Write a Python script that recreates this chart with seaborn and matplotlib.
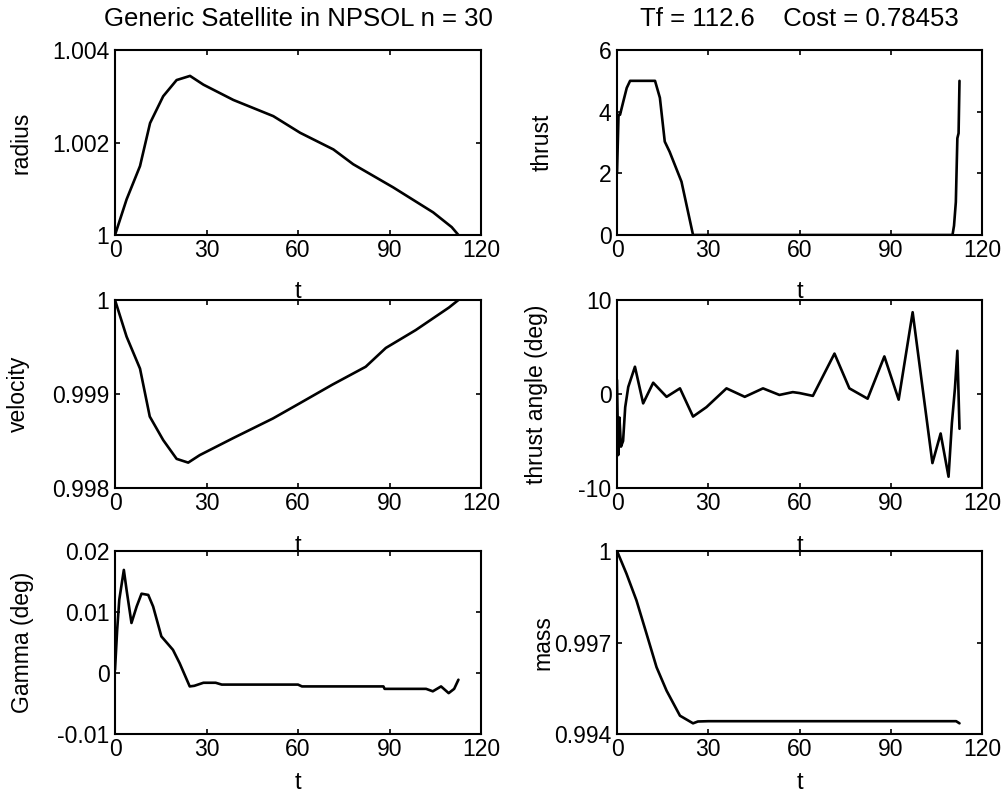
import matplotlib
matplotlib.use("Agg")
import matplotlib.pyplot as plt
import seaborn as sns
import pandas as pd

# ---------------- data ----------------
radius_t = [0, 3.8, 8.2, 11.5, 15.8, 20.2, 24.6, 29, 38.8, 51.9, 60.7, 71.6, 78.1, 91.2, 104.3, 110.4, 112.6]
radius = [1.0, 1.00077, 1.00149, 1.00242, 1.0030, 1.00335, 1.00344, 1.00325, 1.00292, 1.00257,
          1.00221, 1.00185, 1.00153, 1.00103, 1.00049, 1.00017, 1.0]

thrust_t = [0, 0.5, 1.0, 2.1, 3.2, 4.3, 12.5, 14.1, 15.7, 17.3, 21.2, 25.0, 110.3, 110.8, 111.4, 111.9, 112.3, 112.6]
thrust = [2.0, 3.9, 3.9, 4.34, 4.77, 5.0, 5.0, 4.45, 3.03, 2.7, 1.73, 0.0, 0.0, 0.3, 1.07, 3.14, 3.3, 5.0]

velocity_t = [0, 3.8, 8.2, 11.4, 15.8, 20.2, 24, 27.8, 38.7, 51.8, 60.5, 71.3, 82.2, 88.8, 98.6, 109.5, 112.6]
velocity = [1.0, 0.99961, 0.99927, 0.99876, 0.99851, 0.99831, 0.99827, 0.99835, 0.99853, 0.99874,
            0.9989, 0.9991, 0.99929, 0.99949, 0.99968, 0.99992, 1.0]

angle_t = [0, 0.4, 0.8, 1.3, 2.0, 2.7, 3.7, 5.9, 8.6, 11.9, 16.3, 20.7, 25.0, 29.4, 36.0, 42.0, 48.0,
           53.4, 57.8, 60.0, 64.4, 71.5, 76.4, 82.4, 87.9, 92.6, 97.2, 103.7, 106.4, 109.0, 110.1,
           111.1, 111.9, 112.6]
angle = [1.5, -6.5, -2.5, -5.6, -5.0, -1.4, 0.75, 2.9, -1.0, 1.2, -0.3, 0.6, -2.4, -1.4, 0.6, -0.3, 0.6,
         -0.1, 0.2, 0.1, -0.2, 4.3, 0.6, -0.5, 4.0, -0.6, 8.7, -7.35, -4.2, -8.8, -3.1,
         0.6, 4.6, -3.7]

gamma_t = [0, 0.7, 1.4, 2.9, 3.8, 5.4, 7.1, 8.7, 10.9, 12.5, 15.2, 19.0, 21.2, 24.5, 26, 29, 33, 35,
           60, 61.3, 88, 88.4, 102, 104.2, 106.9, 109.4, 111.2, 112.6]
gamma = [0.0005, 0.007, 0.012, 0.0169, 0.0136, 0.0082, 0.0109, 0.013, 0.0128, 0.0109, 0.006, 0.0038,
         0.0016, -0.0022, -0.0021, -0.0016, -0.0016, -0.0019, -0.0019, -0.0022, -0.0022, -0.0026,
         -0.0026, -0.003, -0.0022, -0.0033, -0.0026, -0.0011]

mass_t = [0, 3.1, 6.4, 9.7, 13, 16.3, 20.7, 25, 26.6, 30, 60, 90, 111.5, 112.6]
mass = [1.0, 0.99926, 0.99838, 0.99729, 0.99619, 0.99542, 0.9946, 0.99435, 0.99441, 0.99442,
        0.99442, 0.99442, 0.99442, 0.99435]

x_ticks = [0, 30, 60, 90, 120]
x_ticklabels = ["0", "30", "60", "90", "120"]

radius_ticks = [1.0, 1.002, 1.004]
radius_labels = ["1", "1.002", "1.004"]
thrust_ticks = [0, 2, 4, 6]
thrust_labels = ["0", "2", "4", "6"]
velocity_ticks = [0.998, 0.999, 1.0]
velocity_labels = ["0.998", "0.999", "1"]
angle_ticks = [-10, 0, 10]
angle_labels = ["-10", "0", "10"]
gamma_ticks = [-0.01, 0, 0.01, 0.02]
gamma_labels = ["-0.01", "0", "0.01", "0.02"]
mass_ticks = [0.994, 0.997, 1.0]
mass_labels = ["0.994", "0.997", "1"]

title_left = "Generic Satellite in NPSOL n = 30"
title_right = "Tf = 112.6    Cost = 0.78453"

# ---------------- style ----------------
sns.set_theme(style="ticks")
plt.rcParams.update({
    "axes.linewidth": 1.5,
    "axes.edgecolor": "black",
    "xtick.direction": "in",
    "ytick.direction": "in",
    "xtick.top": True,
    "ytick.right": True,
    "xtick.major.size": 3.6,
    "ytick.major.size": 3.6,
    "xtick.major.width": 1.2,
    "ytick.major.width": 1.2,
    "xtick.major.pad": 3,
    "ytick.major.pad": 4,
    "xtick.color": "black",
    "ytick.color": "black",
    "text.color": "black",
    "axes.labelcolor": "black",
})
plt.rcParams["font.family"] = ["Liberation Sans", "DejaVu Sans"]

fig = plt.figure(figsize=(10.05, 8.05), dpi=100)

W, H = 1005.0, 805.0
cols = [(115, 366), (617, 365)]
rows = [(50, 235), (300, 488), (551, 734)]

panels = [
    (0, 0, radius_t, radius, "radius", (1.0, 1.004), radius_ticks, radius_labels, -0.225),
    (0, 1, thrust_t, thrust, "thrust", (0, 6), thrust_ticks, thrust_labels, -0.175),
    (1, 0, velocity_t, velocity, "velocity", (0.998, 1.0), velocity_ticks, velocity_labels, -0.232),
    (1, 1, angle_t, angle, "thrust angle (deg)", (-10, 10), angle_ticks, angle_labels, -0.19),
    (2, 0, gamma_t, gamma, "Gamma (deg)", (-0.01, 0.02), gamma_ticks, gamma_labels, -0.222),
    (2, 1, mass_t, mass, "mass", (0.994, 1.0), mass_ticks, mass_labels, -0.172),
]
xlabel_y = [-0.25, -0.25, -0.21]

for r, c, tt, vv, name, ylim, yt, ytl, ylab_x in panels:
    left, width = cols[c]
    top, bottom = rows[r]
    ax = fig.add_axes([left / W, 1 - bottom / H, width / W, (bottom - top) / H])
    df = pd.DataFrame({"t": tt, name: vv})
    sns.lineplot(data=df, x="t", y=name, ax=ax, color="black", linewidth=1.9,
                 estimator=None, sort=False)
    ax.set_xlim(0, 120)
    ax.set_ylim(*ylim)
    ax.set_xticks(x_ticks, x_ticklabels)
    ax.set_yticks(yt, ytl)
    ax.tick_params(labelsize=16.5)
    ax.set_xlabel("t", fontsize=17)
    ax.set_ylabel(name, fontsize=16.5)
    ax.xaxis.set_label_coords(0.5, xlabel_y[r])
    ax.yaxis.set_label_coords(ylab_x, 0.5)
    for s in ax.spines.values():
        s.set_visible(True)
    if r == 0:
        ax.set_title(title_left if c == 0 else title_right, fontsize=18.5, pad=17)

fig.savefig("out.png", dpi=100, facecolor="white")
